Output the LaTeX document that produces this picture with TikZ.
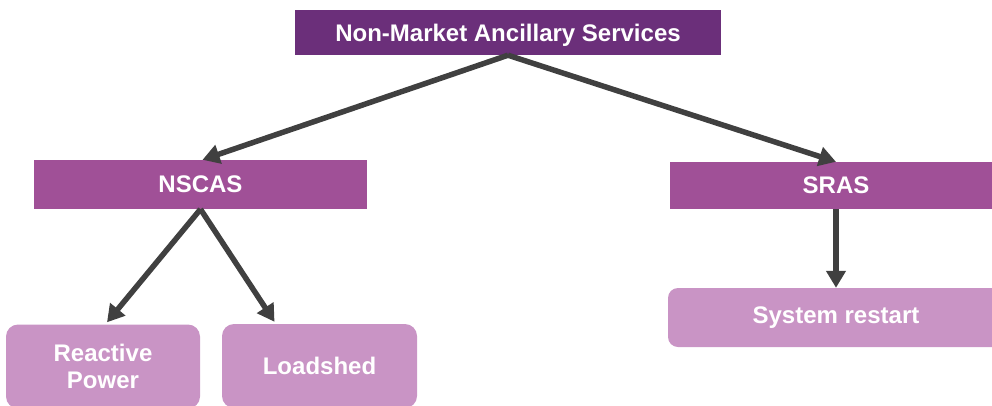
\documentclass[tikz,border=0pt]{standalone}
\usepackage{fontspec}
\setmainfont{Liberation Sans}
\usetikzlibrary{arrows.meta}
\definecolor{topc}{HTML}{6B2F7A}
\definecolor{midc}{HTML}{A05097}
\definecolor{lowc}{HTML}{C994C5}
\definecolor{arrc}{HTML}{404040}
\begin{document}
\begin{tikzpicture}[x=1pt,y=-1pt,
  box/.style={inner sep=0pt,text=white,align=center,
    font=\fontsize{24}{27}\bfseries\selectfont},
  topbox/.style={box,fill=topc},
  midbox/.style={box,fill=midc},
  lowbox/.style={box,fill=lowc,rounded corners=12pt},
  conn/.style={draw=arrc,line width=5.5pt,-{Triangle[width=19pt,length=17pt]},fill=arrc}]
\useasboundingbox (0,0) rectangle (992,405);
\clip (0,0) rectangle (992,405);
\node[topbox,text depth=0pt,minimum width=426pt,minimum height=45pt] (top) at (508,32.5) {Non-Market Ancillary Services};
\node[midbox,minimum width=333pt,minimum height=49pt] (nscas) at (200.5,184.5) {NSCAS};
\node[midbox,minimum width=332pt,minimum height=47pt] (sras) at (836,185.5) {SRAS};
\node[lowbox,minimum width=194pt,minimum height=84pt] (rp) at (103,366.5) {Reactive\\Power};
\node[lowbox,minimum width=195pt,minimum height=84pt] (ls) at (319.5,366) {Loadshed};
\node[lowbox,rounded corners=10pt,minimum width=336pt,minimum height=59pt] (sr) at (836,317.5) {System restart};
\draw[conn] (top.south) -- ([xshift=2pt]nscas.north);
\draw[conn] (top.south) -- (sras.north);
\draw[conn] (nscas.south) -- ([xshift=4pt,yshift=2pt]rp.north);
\draw[conn] (nscas.south) -- ([xshift=-45pt,yshift=2pt]ls.north);
\draw[conn] (sras.south) -- (sr.north);
\end{tikzpicture}
\end{document}
